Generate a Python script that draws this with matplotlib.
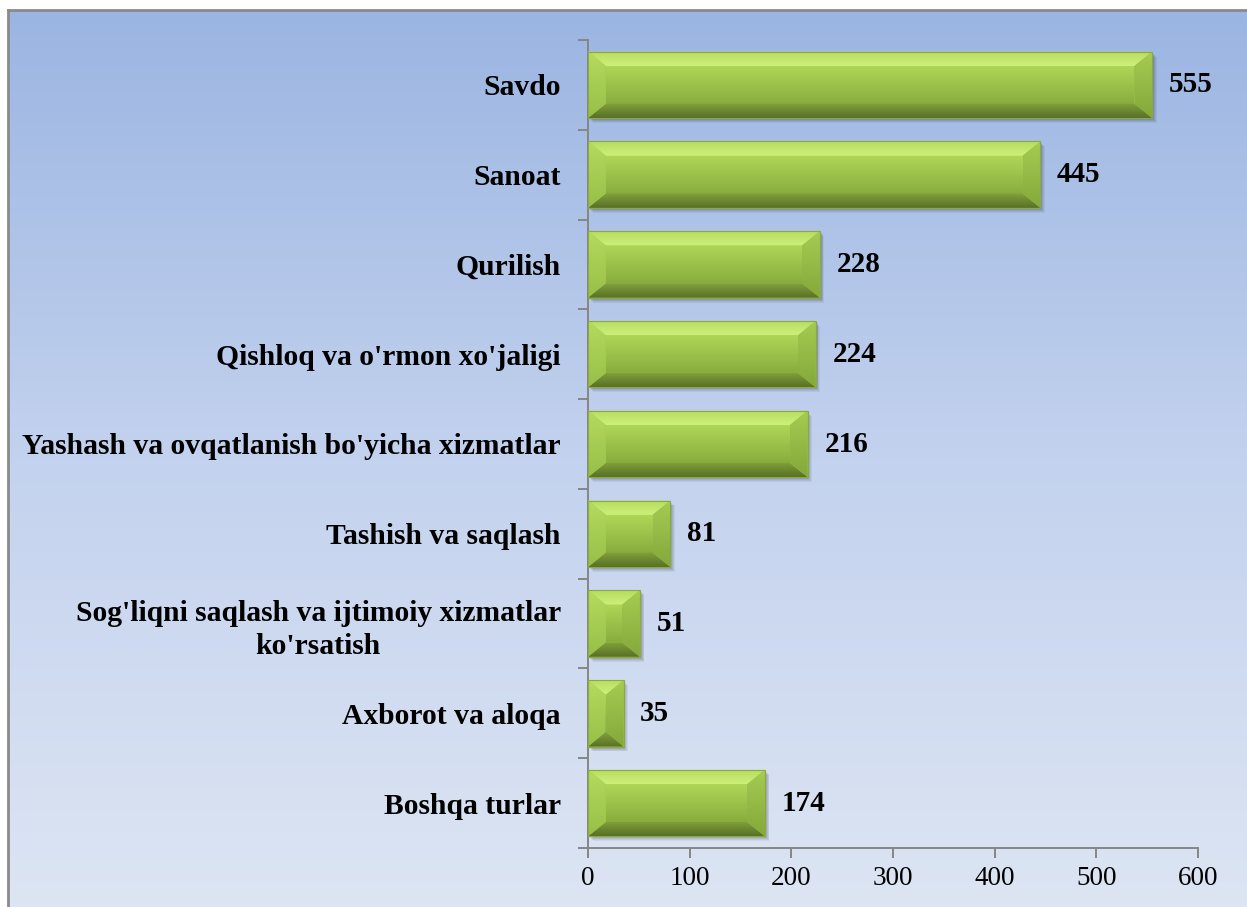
import numpy as np
import matplotlib.pyplot as plt
from matplotlib.patches import Polygon, Rectangle
from matplotlib.colors import LinearSegmentedColormap

# Data (top to bottom)
categories = [
    "Savdo",
    "Sanoat",
    "Qurilish",
    "Qishloq va o'rmon xo'jaligi",
    "Yashash va ovqatlanish bo'yicha xizmatlar",
    "Tashish va saqlash",
    "Sog'liqni saqlash va ijtimoiy xizmatlar\nko'rsatish",
    "Axborot va aloqa",
    "Boshqa turlar",
]
values = [555, 445, 228, 224, 216, 81, 51, 35, 174]
xticks = [0, 100, 200, 300, 400, 500, 600]

serif = ["Liberation Serif", "DejaVu Serif"]
W, H = 1247, 907
fig = plt.figure(figsize=(W / 100, H / 100), dpi=100)

# background panel with vertical gradient
bg = fig.add_axes([8 / W, 0, 1 - 8 / W, 1 - 10 / H])
grad = np.linspace(0, 1, 256).reshape(-1, 1)
bg.imshow(grad, aspect="auto", extent=[0, 1, 0, 1], origin="upper",
          cmap=LinearSegmentedColormap.from_list("bg", ["#9bb5e2", "#c3d2ee", "#dde5f3"]))
bg.set_xlim(0, 1)
bg.set_ylim(0, 1)
bg.set_xticks([])
bg.set_yticks([])
for s in ["right", "bottom"]:
    bg.spines[s].set_visible(False)
for s in ["left", "top"]:
    bg.spines[s].set_color("#8a8a8a")
    bg.spines[s].set_linewidth(2)

ax = fig.add_axes([588 / W, 1 - 848 / H, 610 / W, 808 / H])
ax.set_facecolor("none")

pos = np.arange(len(categories))[::-1]
bars = ax.barh(pos, values, height=0.74, color="none", edgecolor="none")

ax.set_xlim(0, 600)
ax.set_ylim(-0.5, len(categories) - 0.5)


def grad_poly(pts, c_top, c_bot, z):
    poly = Polygon(pts, closed=True, facecolor="none", edgecolor="none", zorder=z)
    ax.add_patch(poly)
    xs = [p[0] for p in pts]
    ys = [p[1] for p in pts]
    cm = LinearSegmentedColormap.from_list("g", [c_top, c_bot])
    im = ax.imshow(grad, aspect="auto", cmap=cm, origin="upper",
                   extent=[min(xs), max(xs), min(ys), max(ys)], zorder=z)
    im.set_clip_path(poly)


for r in bars.patches:
    x0, y0 = r.get_x(), r.get_y()
    w, h = r.get_width(), r.get_height()
    x1, y1 = x0 + w, y0 + h
    dx = min(17.5, w / 2 - 0.5)
    dy = 0.16
    # soft shadow
    for k, a in [(5, 0.05), (4, 0.06), (3, 0.07), (2, 0.08)]:
        ax.add_patch(Rectangle((x0 + k * 0.9, y0 - k * 0.011), w, h,
                               facecolor="black", alpha=a, edgecolor="none", zorder=2))
    # base fill to hide seams between faces
    ax.add_patch(Rectangle((x0, y0), w, h, facecolor="#9dc34b", edgecolor="none", zorder=2.5))
    # center face
    grad_poly([(x0 + dx, y0 + dy), (x1 - dx, y0 + dy), (x1 - dx, y1 - dy), (x0 + dx, y1 - dy)],
              "#b0d657", "#89ad3e", 3)
    # top bevel
    grad_poly([(x0, y1), (x1, y1), (x1 - dx, y1 - dy), (x0 + dx, y1 - dy)],
              "#b7db60", "#cdf07a", 3)
    # bottom bevel
    grad_poly([(x0, y0), (x1, y0), (x1 - dx, y0 + dy), (x0 + dx, y0 + dy)],
              "#82a33b", "#586f27", 3)
    # left bevel
    grad_poly([(x0, y0), (x0, y1), (x0 + dx, y1 - dy), (x0 + dx, y0 + dy)],
              "#b5dc5e", "#97be48", 3)
    # right bevel
    grad_poly([(x1, y0), (x1, y1), (x1 - dx, y1 - dy), (x1 - dx, y0 + dy)],
              "#a6cc52", "#84a83b", 3)
    ax.add_patch(Rectangle((x0, y0), w, h, facecolor="none",
                           edgecolor="#8aab3a", linewidth=0.8, zorder=4))

ax.set_xlim(0, 600)
ax.set_ylim(-0.5, len(categories) - 0.5)

ax.bar_label(bars, padding=12, fontsize=21, fontweight="bold", family=serif, color="black")

ax.set_yticks(pos)
ax.set_yticklabels(categories, fontsize=21.3, fontweight="bold", family=serif,
                   multialignment="center", linespacing=1.3)
ax.set_yticks(np.arange(-0.5, len(categories), 1), minor=True)
ax.tick_params(axis="y", which="major", length=0, pad=19.5)
ax.tick_params(axis="y", which="minor", length=7, width=1.4, color="#868686", direction="out")

ax.set_xticks(xticks)
ax.set_xticklabels([str(t) for t in xticks], fontsize=19.5, family=serif)
ax.tick_params(axis="x", length=7, width=1.4, color="#868686", pad=6)

for s in ["top", "right"]:
    ax.spines[s].set_visible(False)
for s in ["left", "bottom"]:
    ax.spines[s].set_color("#868686")
    ax.spines[s].set_linewidth(1.4)

fig.savefig("out.png", dpi=100)
